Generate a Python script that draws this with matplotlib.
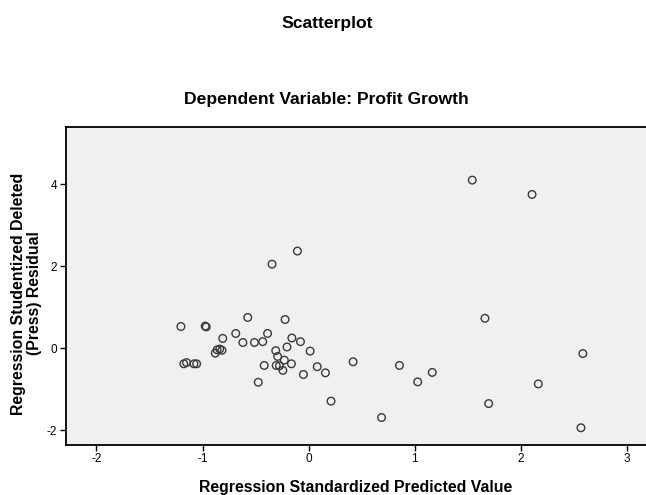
import matplotlib.pyplot as plt

# standardized predicted values and studentized deleted residuals
pred = [1.542, 2.106, -0.106, -0.345, -0.574, -0.222, 1.662, -1.204, -0.975, -0.965,
        -0.687, -0.387, -0.810, -0.158, -0.620, -0.511, -0.433, -0.077, -0.204, 0.014,
        -0.310, 2.585, -0.880, -0.863, -0.838, -0.817, -0.292, -0.229, 0.419, -1.151,
        -1.176, -1.081, -1.056, -0.419, -0.306, -0.275, -0.162, -0.243, 0.081, 0.856,
        -0.049, 0.158, 1.165, -0.475, 1.028, 2.165, 0.211, 1.697, 0.687, 2.567]
resid = [4.10, 3.75, 2.37, 2.05, 0.75, 0.70, 0.73, 0.53, 0.54, 0.52,
         0.36, 0.36, 0.24, 0.25, 0.14, 0.14, 0.16, 0.16, 0.03, -0.07,
         -0.06, -0.13, -0.12, -0.04, -0.02, -0.05, -0.20, -0.29, -0.33, -0.35,
         -0.38, -0.38, -0.38, -0.42, -0.42, -0.43, -0.38, -0.54, -0.45, -0.42,
         -0.64, -0.60, -0.59, -0.83, -0.82, -0.87, -1.29, -1.35, -1.69, -1.94]
xticks = [-2, -1, 0, 1, 2, 3]
yticks = [-2, 0, 2, 4]

plt.rcParams['font.family'] = ['Liberation Sans', 'DejaVu Sans']
plt.rcParams['axes.unicode_minus'] = False

fig = plt.figure(figsize=(6.46, 4.95), dpi=100)
ax = fig.add_axes([0.1017, 0.101, 0.918, 0.642])
ax.set_facecolor('#f0f0f0')
ax.scatter(pred, resid, s=30, facecolors='none', edgecolors='#3a3a3a', linewidths=1.0)

ax.set_xlim(-2.29, 3.3)
ax.set_ylim(-2.36, 5.39)
ax.set_xticks(xticks)
ax.set_yticks(yticks)
ax.tick_params(labelsize=8.5, colors='black', length=4, width=1, pad=2)
for s in ax.spines.values():
    s.set_linewidth(1.3)
    s.set_color('black')

# axis titles placed by hand to match the original layout
fig.text(0.550, 0.016, 'Regression Standardized Predicted Value', ha='center', va='center',
         fontsize=11.4, fontweight='bold')
fig.text(0.041, 0.407, 'Regression Studentized Deleted\n(Press) Residual', ha='center',
         va='center', rotation=90, multialignment='center', linespacing=1.1,
         fontsize=11.4, fontweight='bold')

fig.text(0.506, 0.9535, 'Scatterplot', ha='center', va='center', fontsize=12.6, fontweight='bold')
fig.text(0.505, 0.798, 'Dependent Variable: Profit Growth', ha='center', va='center',
         fontsize=12.6, fontweight='bold')

fig.savefig('out.png', dpi=100)
